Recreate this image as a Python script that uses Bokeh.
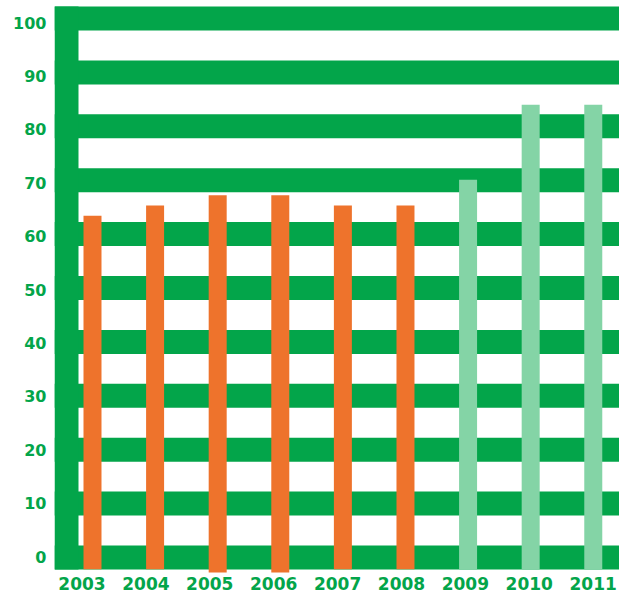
from bokeh.plotting import figure
from bokeh.models import Range1d, LinearAxis, FixedTicker, ColumnDataSource
from bokeh.core.properties import value
from bokeh.embed import file_html
from bokeh.resources import INLINE

# ---- data ----
years = ["2003", "2004", "2005", "2006", "2007", "2008", "2009", "2010", "2011"]
values = [63.4, 65.3, 67.2, 67.2, 65.3, 65.3, 70.1, 84.0, 84.0]
bases = [-2.2, -2.2, -2.8, -2.8, -2.2, -2.2, -2.2, -2.2, -2.2]
period = ["past"] * 6 + ["recent"] * 3
y_ticks = list(range(0, 101, 10))

GREEN = "#03A54A"
ORANGE = "#EE732C"
LIGHT = "#84D4A6"
color_of = {"past": ORANGE, "recent": LIGHT}

# ---- layout constants (pixels per data unit) ----
PX_X = 62.6
PX_Y = 5.39
FONT = "DejaVu Sans"

idx = list(range(len(years)))
src = ColumnDataSource(dict(
    x=idx, top=values, bottom=bases, color=[color_of[s] for s in period]))

xr = Range1d(-0.607, 8.419)
yr = Range1d(-6.865, 103.34)

p = figure(frame_width=565, frame_height=594, output_backend="svg",
           toolbar_location=None, x_range=xr, y_range=yr,
           x_axis_location=None, y_axis_location=None,
           min_border_left=54, min_border_right=0,
           min_border_top=0, min_border_bottom=0)
p.outline_line_color = None
p.background_fill_color = "white"
p.border_fill_color = "white"
p.grid.visible = False

p.extra_y_ranges = {"lab": Range1d(-7.116, 104.12)}
p.extra_x_ranges = {"lab": Range1d(-0.430, 8.412)}

# horizontal bands
band_h = 24 / PX_Y
p.hbar(y=y_ticks, height=band_h, left=xr.start, right=xr.end + 1,
       color=GREEN, line_color=None)
# vertical bar on the left
p.quad(left=xr.start, right=xr.start + 24 / PX_X,
       bottom=-band_h / 2, top=100 + band_h / 2,
       color=GREEN, line_color=None)

# bars
p.vbar(x="x", width=18 / PX_X, top="top", bottom="bottom",
       color="color", line_color=None, source=src)

# x labels
p.text(x=idx, y=-4.75, text=years, x_range_name="lab",
       text_align="center", text_baseline="middle",
       text_font=value(FONT), text_font_style="bold",
       text_font_size="17px", text_color=GREEN)

# y axis
yaxis = LinearAxis(y_range_name="lab", ticker=FixedTicker(ticks=y_ticks))
yaxis.axis_line_color = None
yaxis.major_tick_line_color = None
yaxis.minor_tick_line_color = None
yaxis.major_tick_out = 0
yaxis.major_tick_in = 0
yaxis.major_label_standoff = 8
yaxis.major_label_text_font = FONT
yaxis.major_label_text_font_style = "bold"
yaxis.major_label_text_font_size = "16px"
yaxis.major_label_text_color = GREEN
p.add_layout(yaxis, "left")

open("out.html", "w").write(file_html(p, INLINE))
